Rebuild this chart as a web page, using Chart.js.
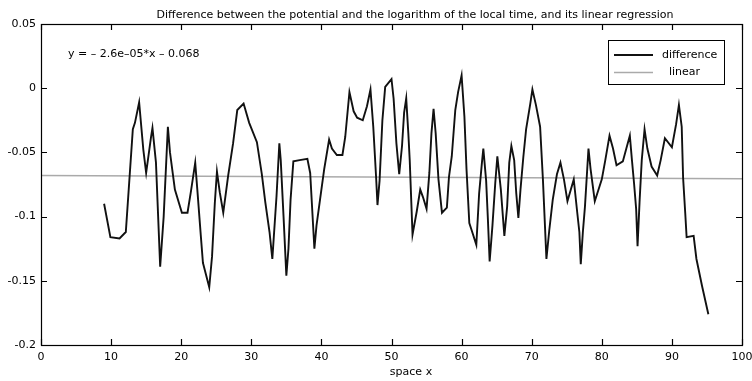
<!DOCTYPE html>
<html>
<head>
<meta charset="utf-8">
<script src="https://cdn.jsdelivr.net/npm/chart.js@4.4.1/dist/chart.umd.min.js"></script>
<style>
  html, body { margin: 0; padding: 0; background: #fff; }
  #wrap { width: 752px; height: 381px; }
</style>
</head>
<body>
<div id="wrap"><canvas id="grafico" width="752" height="381"></canvas></div>
<script>
// datos
const espacioX = [9.0, 9.9, 11.2, 12.1, 13.1, 13.4, 14.0, 14.6, 15.0, 15.7, 15.9, 16.4, 17.0, 17.5, 18.1, 18.4, 19.1, 20.1, 20.9, 21.4,
  22.0, 22.3, 22.8, 23.1, 24.0, 24.4, 24.8, 25.1, 25.5, 26.0, 26.7, 27.4, 28.0, 28.9, 29.7, 30.8, 31.5, 32.0, 32.6, 33.0,
  33.6, 34.0, 34.2, 34.6, 35.0, 35.3, 35.6, 36.0, 36.9, 38.0, 38.4, 39.0, 39.3, 39.8, 40.4, 41.1, 41.5, 42.2, 43.0, 43.4,
  44.0, 44.6, 45.1, 45.9, 46.5, 47.0, 47.4, 47.8, 48.0, 48.3, 48.7, 49.1, 50.0, 50.3, 50.7, 51.1, 51.5, 51.8, 52.1, 52.4,
  52.6, 53.0, 53.6, 54.1, 54.5, 55.0, 55.4, 55.7, 56.0, 56.3, 56.7, 57.2, 57.9, 58.2, 58.6, 59.1, 59.5, 60.0, 60.4, 60.7,
  61.1, 61.4, 62.1, 62.5, 62.9, 63.1, 63.5, 63.75, 64.0, 64.4, 64.8, 65.1, 65.6, 66.1, 66.5, 66.8, 67.1, 67.5, 67.8, 68.1,
  68.4, 68.8, 69.2, 69.8, 70.1, 70.6, 71.2, 71.6, 72.1, 72.5, 73.0, 73.6, 74.1, 74.6, 75.1, 76.0, 76.5, 76.8, 77.0, 77.3,
  77.6, 78.1, 78.4, 79.0, 80.0, 80.5, 81.1, 81.6, 82.1, 83.0, 83.5, 84.0, 84.3, 84.6, 84.9, 85.1, 85.4, 85.7, 86.1, 86.5,
  87.1, 87.9, 88.4, 89.0, 90.0, 90.6, 91.0, 91.4, 91.6, 91.9, 92.1, 93.1, 93.5, 94.3, 95.2];
const diferencia = [-0.090, -0.116, -0.117, -0.112, -0.032, -0.027, -0.011, -0.048, -0.066, -0.038, -0.031, -0.058, -0.139, -0.100, -0.030, -0.050, -0.079, -0.097, -0.097, -0.080,
  -0.058, -0.079, -0.115, -0.136, -0.155, -0.131, -0.089, -0.065, -0.081, -0.097, -0.068, -0.043, -0.017, -0.012, -0.027, -0.042, -0.067, -0.089, -0.112, -0.133,
  -0.084, -0.043, -0.056, -0.100, -0.146, -0.125, -0.087, -0.057, -0.056, -0.055, -0.066, -0.125, -0.107, -0.087, -0.063, -0.040, -0.047, -0.052, -0.052, -0.038,
  -0.003, -0.018, -0.023, -0.025, -0.014, -0.001, -0.030, -0.069, -0.091, -0.072, -0.025, 0.001, 0.007, -0.008, -0.043, -0.067, -0.045, -0.019, -0.008, -0.035,
  -0.056, -0.114, -0.096, -0.079, -0.085, -0.094, -0.066, -0.035, -0.016, -0.035, -0.071, -0.097, -0.093, -0.069, -0.053, -0.017, -0.003, 0.010, -0.022, -0.063,
  -0.105, -0.110, -0.122, -0.082, -0.058, -0.047, -0.072, -0.102, -0.135, -0.107, -0.074, -0.053, -0.079, -0.115, -0.092, -0.058, -0.045, -0.056, -0.082, -0.101,
  -0.079, -0.054, -0.032, -0.012, -0.001, -0.013, -0.030, -0.071, -0.133, -0.111, -0.087, -0.067, -0.058, -0.071, -0.088, -0.071, -0.097, -0.112, -0.137, -0.112,
  -0.092, -0.047, -0.063, -0.088, -0.071, -0.056, -0.037, -0.047, -0.060, -0.057, -0.047, -0.037, -0.056, -0.074, -0.094, -0.123, -0.087, -0.056, -0.032, -0.047,
  -0.061, -0.068, -0.056, -0.039, -0.046, -0.028, -0.013, -0.030, -0.070, -0.097, -0.116, -0.115, -0.133, -0.154, -0.176];
const regresionX = [0, 100];
const regresionY = [-0.068, -0.0706];
const ticksX = [0, 10, 20, 30, 40, 50, 60, 70, 80, 90, 100];
const ticksY = [0.05, 0, -0.05, -0.1, -0.15, -0.2];

const titulo = "Difference between the potential and the logarithm of the local time, and its linear regression";
const ecuacion = "y = \u2013 2.6e\u201305*x \u2013 0.068";
const etiquetaX = "space x";

const fuente = "'DejaVu Sans', sans-serif";

// caja estilo matlab con ticks hacia adentro, textos y leyenda
const cajaPlugin = {
  id: "caja",
  afterDraw(chart) {
    const ctx = chart.ctx;
    const area = chart.chartArea;
    const sx = chart.scales.x, sy = chart.scales.y;
    ctx.save();
    ctx.strokeStyle = "#000";
    ctx.lineWidth = 1.2;
    ctx.strokeRect(area.left + 0.5, area.top + 0.5, area.right - area.left, area.bottom - area.top);
    ctx.beginPath();
    ticksX.forEach(v => {
      let p = Math.round(sx.getPixelForValue(v)) + 0.5;
      ctx.moveTo(p, area.bottom); ctx.lineTo(p, area.bottom - 6);
      ctx.moveTo(p, area.top); ctx.lineTo(p, area.top + 6);
    });
    ticksY.forEach(v => {
      let p = Math.round(sy.getPixelForValue(v)) + 0.5;
      ctx.moveTo(area.left, p); ctx.lineTo(area.left + 6, p);
      ctx.moveTo(area.right, p); ctx.lineTo(area.right - 6, p);
    });
    ctx.stroke();

    ctx.fillStyle = "#000";
    ctx.textBaseline = "middle";
    ctx.textAlign = "center";
    ctx.font = "11px " + fuente;
    ctx.fillText(titulo, 415, 15);
    ctx.fillText(etiquetaX, 411, 372);
    ctx.textAlign = "left";
    ctx.fillText(ecuacion, 68, 54);

    // leyenda
    ctx.lineWidth = 1;
    ctx.fillStyle = "#fff";
    ctx.fillRect(608, 40, 116, 44);
    ctx.strokeRect(608.5, 40.5, 116, 44);
    const filas = [55, 72.5];
    const desplaz = [662, 669];
    chart.data.datasets.forEach((ds, i) => {
      ctx.strokeStyle = ds.borderColor;
      ctx.lineWidth = ds.borderWidth;
      ctx.beginPath();
      ctx.moveTo(614, filas[i]); ctx.lineTo(653, filas[i]);
      ctx.stroke();
      ctx.fillStyle = "#000";
      ctx.fillText(ds.label, desplaz[i], filas[i]);
    });
    ctx.restore();
  }
};

const ctx = document.getElementById("grafico");
new Chart(ctx, {
  type: "scatter",
  data: {
    datasets: [
      {
        label: "difference",
        data: espacioX.map((x, i) => ({ x: x, y: diferencia[i] })),
        showLine: true,
        borderColor: "#111",
        borderWidth: 1.9,
        pointRadius: 0,
        tension: 0
      },
      {
        label: "linear",
        data: regresionX.map((x, i) => ({ x: x, y: regresionY[i] })),
        showLine: true,
        borderColor: "#aaa",
        borderWidth: 1.5,
        pointRadius: 0
      }
    ]
  },
  options: {
    responsive: false,
    animation: false,
    layout: { padding: { top: 24, right: 10, left: 0, bottom: 0 } },
    plugins: { legend: { display: false }, title: { display: false }, tooltip: { enabled: false } },
    scales: {
      x: {
        type: "linear",
        min: 0, max: 100,
        grid: { display: false, drawTicks: false },
        border: { display: false },
        ticks: {
          stepSize: 10, padding: 6, color: "#000",
          font: { family: fuente, size: 11 },
          maxRotation: 0
        },
        // el "100" queda cortado en el borde como en el original
        afterFit: s => { s.height = 36; s.paddingRight = 0; s.paddingLeft = 0; }
      },
      y: {
        min: -0.2, max: 0.05,
        grid: { display: false, drawTicks: false },
        border: { display: false },
        ticks: {
          stepSize: 0.05, padding: 5, color: "#000",
          font: { family: fuente, size: 11 },
          callback: v => String(+v.toFixed(2))
        },
        afterFit: s => { s.width = 41; s.paddingTop = 0; s.paddingBottom = 0; }
      }
    }
  },
  plugins: [cajaPlugin]
});
</script>
</body>
</html>
